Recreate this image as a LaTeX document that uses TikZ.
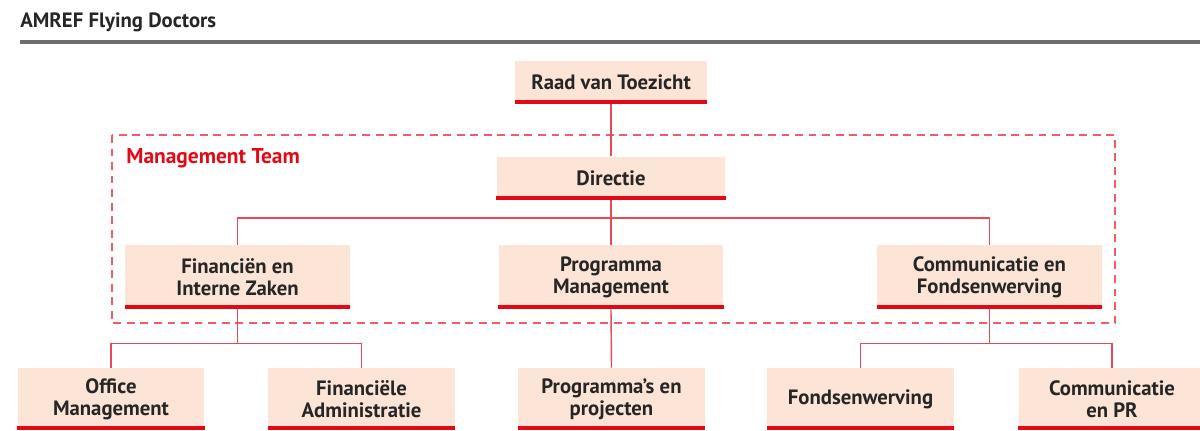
\documentclass[tikz,border=0pt]{standalone}
\usepackage{fontspec}
\setmainfont{PT Sans}
\definecolor{peach}{RGB}{252,228,214}
\definecolor{amrefred}{RGB}{228,8,20}
\definecolor{linkred}{RGB}{234,72,82}
\definecolor{framered}{RGB}{238,92,100}
\definecolor{rulegray}{RGB}{110,110,110}
\definecolor{textgray}{RGB}{38,38,38}
\tikzset{
  orgbox/.style={fill=peach, text=textgray, align=center, inner sep=0pt,
    font=\bfseries\fontsize{11.8}{12.6}\selectfont},
  toprow/.style={orgbox, minimum height=0.86cm},
  midrow/.style={orgbox, minimum width=4.5cm, minimum height=1.28cm},
  lowrow/.style={orgbox, minimum width=3.74cm, minimum height=1.24cm},
  bar/.style={amrefred, line width=0.08cm},
  link/.style={linkred, line width=0.8pt},
  mtframe/.style={framered, line width=0.8pt, dash pattern=on 4.5pt off 3.2pt},
}
\begin{document}
\begin{tikzpicture}[x=0.02cm, y=-0.02cm]
\useasboundingbox (0,0) rectangle (1200,430);
\clip (0,0) rectangle (1200,430);
% Draw title and gray rule
\node[anchor=base west, inner sep=0pt, text=textgray, font=\bfseries\fontsize{11.8}{13}\selectfont] (title) at (20,27) {AMREF Flying Doctors};
\draw[rulegray, line width=0.08cm] (20,42) -- (1200,42);
% Draw management team frame
\draw[mtframe] (112,135) rectangle (1115,323);
\node[anchor=base west, inner sep=0pt, text=amrefred, font=\bfseries\fontsize{12.2}{13}\selectfont] (mt) at (126,163) {Management Team};
% Draw boxes
\node[toprow, minimum width=3.84cm] (raad) at (611,82) {Raad van Toezicht};
\node[toprow, minimum width=4.58cm] (dir) at (611,178) {Directie};
\node[midrow] (fin) at (237.5,277) {Financiën en\\Interne Zaken};
\node[midrow] (prog) at (611,277) {Programma\\Management};
\node[midrow] (comm) at (989.5,277) {Communicatie en\\Fondsenwerving};
\node[lowrow] (office) at (111,399) {Office\\Management};
\node[lowrow] (finadm) at (361.5,399) {Financiële\\Administratie};
\node[lowrow] (projects) at (611.5,399) {Programma’s en\\projecten};
\node[lowrow] (fonds) at (860.5,399) {Fondsenwerving};
\node[lowrow] (compr) at (1112,399) {Communicatie\\en PR};
% Draw red bars under each box
\foreach \n in {raad,dir,fin,prog,comm,office,finadm,projects,fonds,compr}
  \draw[bar] ([yshift=1.1pt]\n.south west) -- ([yshift=1.1pt]\n.south east);
% Draw connectors
\draw[link] (raad) -- (dir);
\path (dir.south) ++(0,18) coordinate (bus);
\draw[link] (dir.south) -- (bus);
\draw[link] (fin.north) |- (bus) -| (comm.north);
\draw[link] (bus) -- (prog.north);
\path (fin.south) ++(0,34) coordinate (finbus);
\draw[link] (fin.south) -- (finbus);
\draw[link] (office.north) |- (finbus) -| (finadm.north);
\draw[link] (prog.south) -- (projects.north);
\path (comm.south) ++(0,34) coordinate (commbus);
\draw[link] (comm.south) -- (commbus);
\draw[link] (fonds.north) |- (commbus) -| (compr.north);
\end{tikzpicture}
\end{document}
